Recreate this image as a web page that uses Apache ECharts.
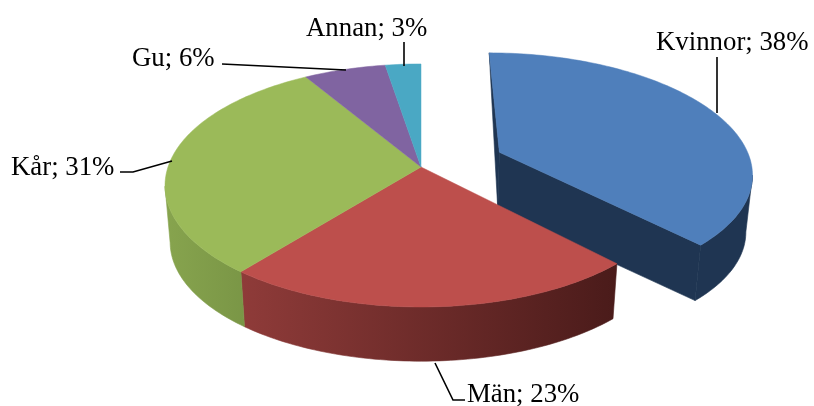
<!DOCTYPE html>
<html>
<head>
<meta charset="utf-8">
<style>html,body{margin:0;padding:0;background:#fff}#c{width:814px;height:406px}</style>
<script src="https://cdn.jsdelivr.net/npm/echarts@6/dist/echarts.min.js"></script>
</head>
<body>
<div id="c"></div>
<script>
var categories = ['Kvinnor', 'Män', 'Kår', 'Gu', 'Annan'];
var shares = [37.9, 22.9, 30.6, 6.0, 2.6];

var topColors = ['#4F7FBB', '#BD4F4C', '#9BBA59', '#8064A1', '#4AA8C4'];
var wallGradients = [
  ['#1F3552', '#1F3552'],
  ['#8F3B39', '#4A1B1A'],
  ['#87A44E', '#7A9646'],
  ['#5E4A78', '#5E4A78'],
  ['#37798E', '#37798E']
];
var explode = [0.34, 0, 0, 0, 0];
var labelLayout = [
  {x: 656, y: 56},
  {x: 467, y: 408},
  {x: 11, y: 181},
  {x: 132, y: 72},
  {x: 306, y: 42}
];
var leaderLayout = [
  [[717, 57], [717, 113]],
  [[435, 363], [453, 400], [465, 400]],
  [[120, 172], [133, 172], [172, 161]],
  [[222, 64], [346, 70]],
  [[404, 42], [404, 66]]
];

var CX = 421, CY = 167, RX = 253, RY = 118.7, P = 0.152, SHRINK = 0.98, DEPTH = 57;
var total = shares.reduce(function (a, b) { return a + b; }, 0);

function project(u, v) {
  var w = 1 - P * v;
  return [CX + RX * u / w, CY + RY * v / w];
}
function lower(pt) {
  return [CX + (pt[0] - CX) * SHRINK, CY + (pt[1] - CY) * SHRINK + DEPTH];
}
function rimPoint(a, ox, oy) {
  return project(ox + Math.sin(a), oy - Math.cos(a));
}

function renderItem(params, api) {
  var i = params.dataIndex;
  var startShare = 0;
  for (var k = 0; k < i; k++) startShare += shares[k];
  var a0 = startShare / total * Math.PI * 2;
  var a1 = (startShare + api.value(0)) / total * Math.PI * 2;
  var mid = (a0 + a1) / 2;
  var ox = explode[i] * Math.sin(mid), oy = -explode[i] * Math.cos(mid);
  var apex = project(ox, oy);
  var steps = Math.max(4, Math.ceil((a1 - a0) / 0.02));
  var rim = [];
  for (var s = 0; s <= steps; s++) rim.push(rimPoint(a0 + (a1 - a0) * s / steps, ox, oy));

  var baseZ = explode[i] > 0 ? 0 : 10;
  var children = [];
  var g = wallGradients[i];

  // outer wall: the rim faces the viewer where it runs from right to left
  var wallTop = [];
  for (var r = 0; r < rim.length - 1; r++) {
    if (rim[r + 1][0] < rim[r][0]) {
      if (!wallTop.length) wallTop.push(rim[r]);
      wallTop.push(rim[r + 1]);
    }
  }
  if (wallTop.length > 1) {
    var fill = new echarts.graphic.LinearGradient(0, 0, 1, 0, [
      {offset: 0, color: g[0]}, {offset: 1, color: g[1]}
    ]);
    children.push({
      type: 'polygon', z2: baseZ + 1,
      shape: {points: wallTop.concat(wallTop.slice().reverse().map(lower))},
      style: {fill: fill, stroke: fill, lineWidth: 0.6}
    });
  }

  if (explode[i] > 0) {
    // cut faces of the pulled-out slice
    children.push({
      type: 'polygon', z2: baseZ + 1,
      shape: {points: [rim[0], apex, lower(apex)]},
      style: {fill: g[0], stroke: g[0], lineWidth: 0.6}
    });
    var last = rim[rim.length - 1];
    children.push({
      type: 'polygon', z2: baseZ + 1,
      shape: {points: [apex, last, lower(last), lower(apex)]},
      style: {fill: g[0], stroke: g[0], lineWidth: 0.6}
    });
  }

  // top face
  children.push({
    type: 'polygon', z2: baseZ + 3,
    shape: {points: [apex].concat(rim)},
    style: {fill: topColors[i], stroke: topColors[i], lineWidth: 0.5}
  });

  // leader line and label
  children.push({
    type: 'polyline', z2: 40,
    shape: {points: leaderLayout[i]},
    style: {stroke: '#000', lineWidth: 1.6, fill: null}
  });
  children.push({
    type: 'text', z2: 41,
    style: {
      text: categories[i] + '; ' + Math.round(api.value(0)) + '%',
      x: labelLayout[i].x, y: labelLayout[i].y,
      font: '26.8px "Liberation Serif", serif',
      fill: '#000', textAlign: 'left', textVerticalAlign: 'bottom'
    }
  });
  return {type: 'group', children: children};
}

var chart = echarts.init(document.getElementById('c'), null, {renderer: 'canvas'});
chart.setOption({
  animation: false,
  backgroundColor: '#fff',
  series: [{
    type: 'custom',
    coordinateSystem: 'none',
    renderItem: renderItem,
    silent: true,
    clip: false,
    encode: {value: 0},
    data: shares.map(function (v) { return [v]; })
  }]
});
</script>
</body>
</html>
